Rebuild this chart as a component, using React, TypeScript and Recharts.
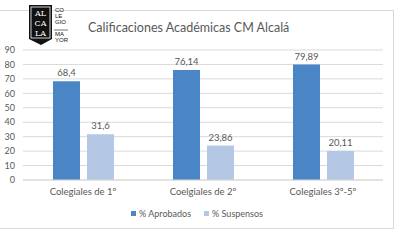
import React from 'react';
import { BarChart, Bar, XAxis, YAxis, CartesianGrid, LabelList } from 'recharts';

const categories = ['Colegiales de 1º', 'Coelgiales de 2º', 'Colegiales 3º-5º'];
const aprobados = [68.4, 76.14, 79.89];
const suspensos = [31.6, 23.86, 20.11];
const yTicks = [0, 10, 20, 30, 40, 50, 60, 70, 80, 90];
const series = [
  { key: 'aprobados', name: '% Aprobados', color: '#4a86c6' },
  { key: 'suspensos', name: '% Suspensos', color: '#b4c8e6' },
];

const chartData = categories.map((name, i) => ({
  name,
  aprobados: aprobados[i],
  suspensos: suspensos[i],
}));

const fmt = (v: any) => String(v).replace('.', ',');

const Logo = () => (
  <svg width={46} height={44} style={{ position: 'absolute', left: 28, top: 3 }}>
    <path d="M1 2 L24 2 L24 36 L13 42 L1 36 Z" fill="#111" />
    <rect x={3} y={4} width={19} height={31} fill="none" stroke="#fff" strokeWidth={0.8} />
    <text x={12.5} y={13} fontSize={8} fill="#fff" textAnchor="middle" fontFamily="DejaVu Serif">AL</text>
    <text x={12.5} y={23} fontSize={8} fill="#fff" textAnchor="middle" fontFamily="DejaVu Serif">CA</text>
    <text x={12.5} y={33} fontSize={8} fill="#fff" textAnchor="middle" fontFamily="DejaVu Serif">LA</text>
    {['CO', 'LE', 'GIO', '', 'MA', 'YOR'].map((t, i) => (
      <text key={i} x={27} y={9 + i * 6} fontSize={6} fill="#111" fontFamily="Liberation Sans">{t}</text>
    ))}
    <line x1={26} y1={27} x2={40} y2={27} stroke="#111" strokeWidth={0.6} />
  </svg>
);

export default function App() {
  return (
    <div style={{ position: 'absolute', left: 0, top: 0, width: 400, height: 250, background: '#fff', fontFamily: 'Lato' }}>
      <div style={{ position: 'absolute', left: -1, top: 10, width: 393, height: 217, border: '1px solid #d9d9d9' }} />
      <Logo />
      <div style={{ position: 'absolute', left: 88, top: 20, fontSize: 12.5, color: '#595959', whiteSpace: 'nowrap' }}>
        Calificaciones Académicas CM Alcalá
      </div>
      <div style={{ position: 'absolute', left: 0, top: 0 }}>
        <BarChart width={400} height={250} data={chartData} margin={{ top: 50, right: 17, bottom: 50, left: 0 }} barGap={7}>
          <CartesianGrid vertical={false} stroke="#d9d9d9" />
          <XAxis
            dataKey="name"
            axisLine={{ stroke: '#d9d9d9' }}
            tickLine={false}
            tick={{ fill: '#595959', fontSize: 9.5 }}
            interval={0}
            height={20}
          />
          <YAxis
            width={23}
            domain={[0, 90]}
            ticks={yTicks}
            interval={0}
            axisLine={false}
            tickLine={false}
            tick={{ fill: '#595959', fontSize: 9 }}
          />
          {series.map((s) => (
            <Bar key={s.key} dataKey={s.key} name={s.name} fill={s.color} barSize={27} isAnimationActive={false}>
              <LabelList dataKey={s.key} position="top" offset={5} formatter={fmt} fill="#595959" fontSize={9.5} />
            </Bar>
          ))}
        </BarChart>
      </div>
      <div style={{ position: 'absolute', top: 208, left: 0, width: 400, display: 'flex', justifyContent: 'center', paddingRight: 6, boxSizing: 'border-box', fontSize: 9, color: '#595959' }}>
        {series.map((s, i) => (
          <div key={s.key} style={{ display: 'flex', alignItems: 'center', marginLeft: i ? 13 : 0 }}>
            <span style={{ width: 5, height: 5, background: s.color, display: 'inline-block', marginRight: 3 }} />
            <span>{s.name}</span>
          </div>
        ))}
      </div>
    </div>
  );
}
